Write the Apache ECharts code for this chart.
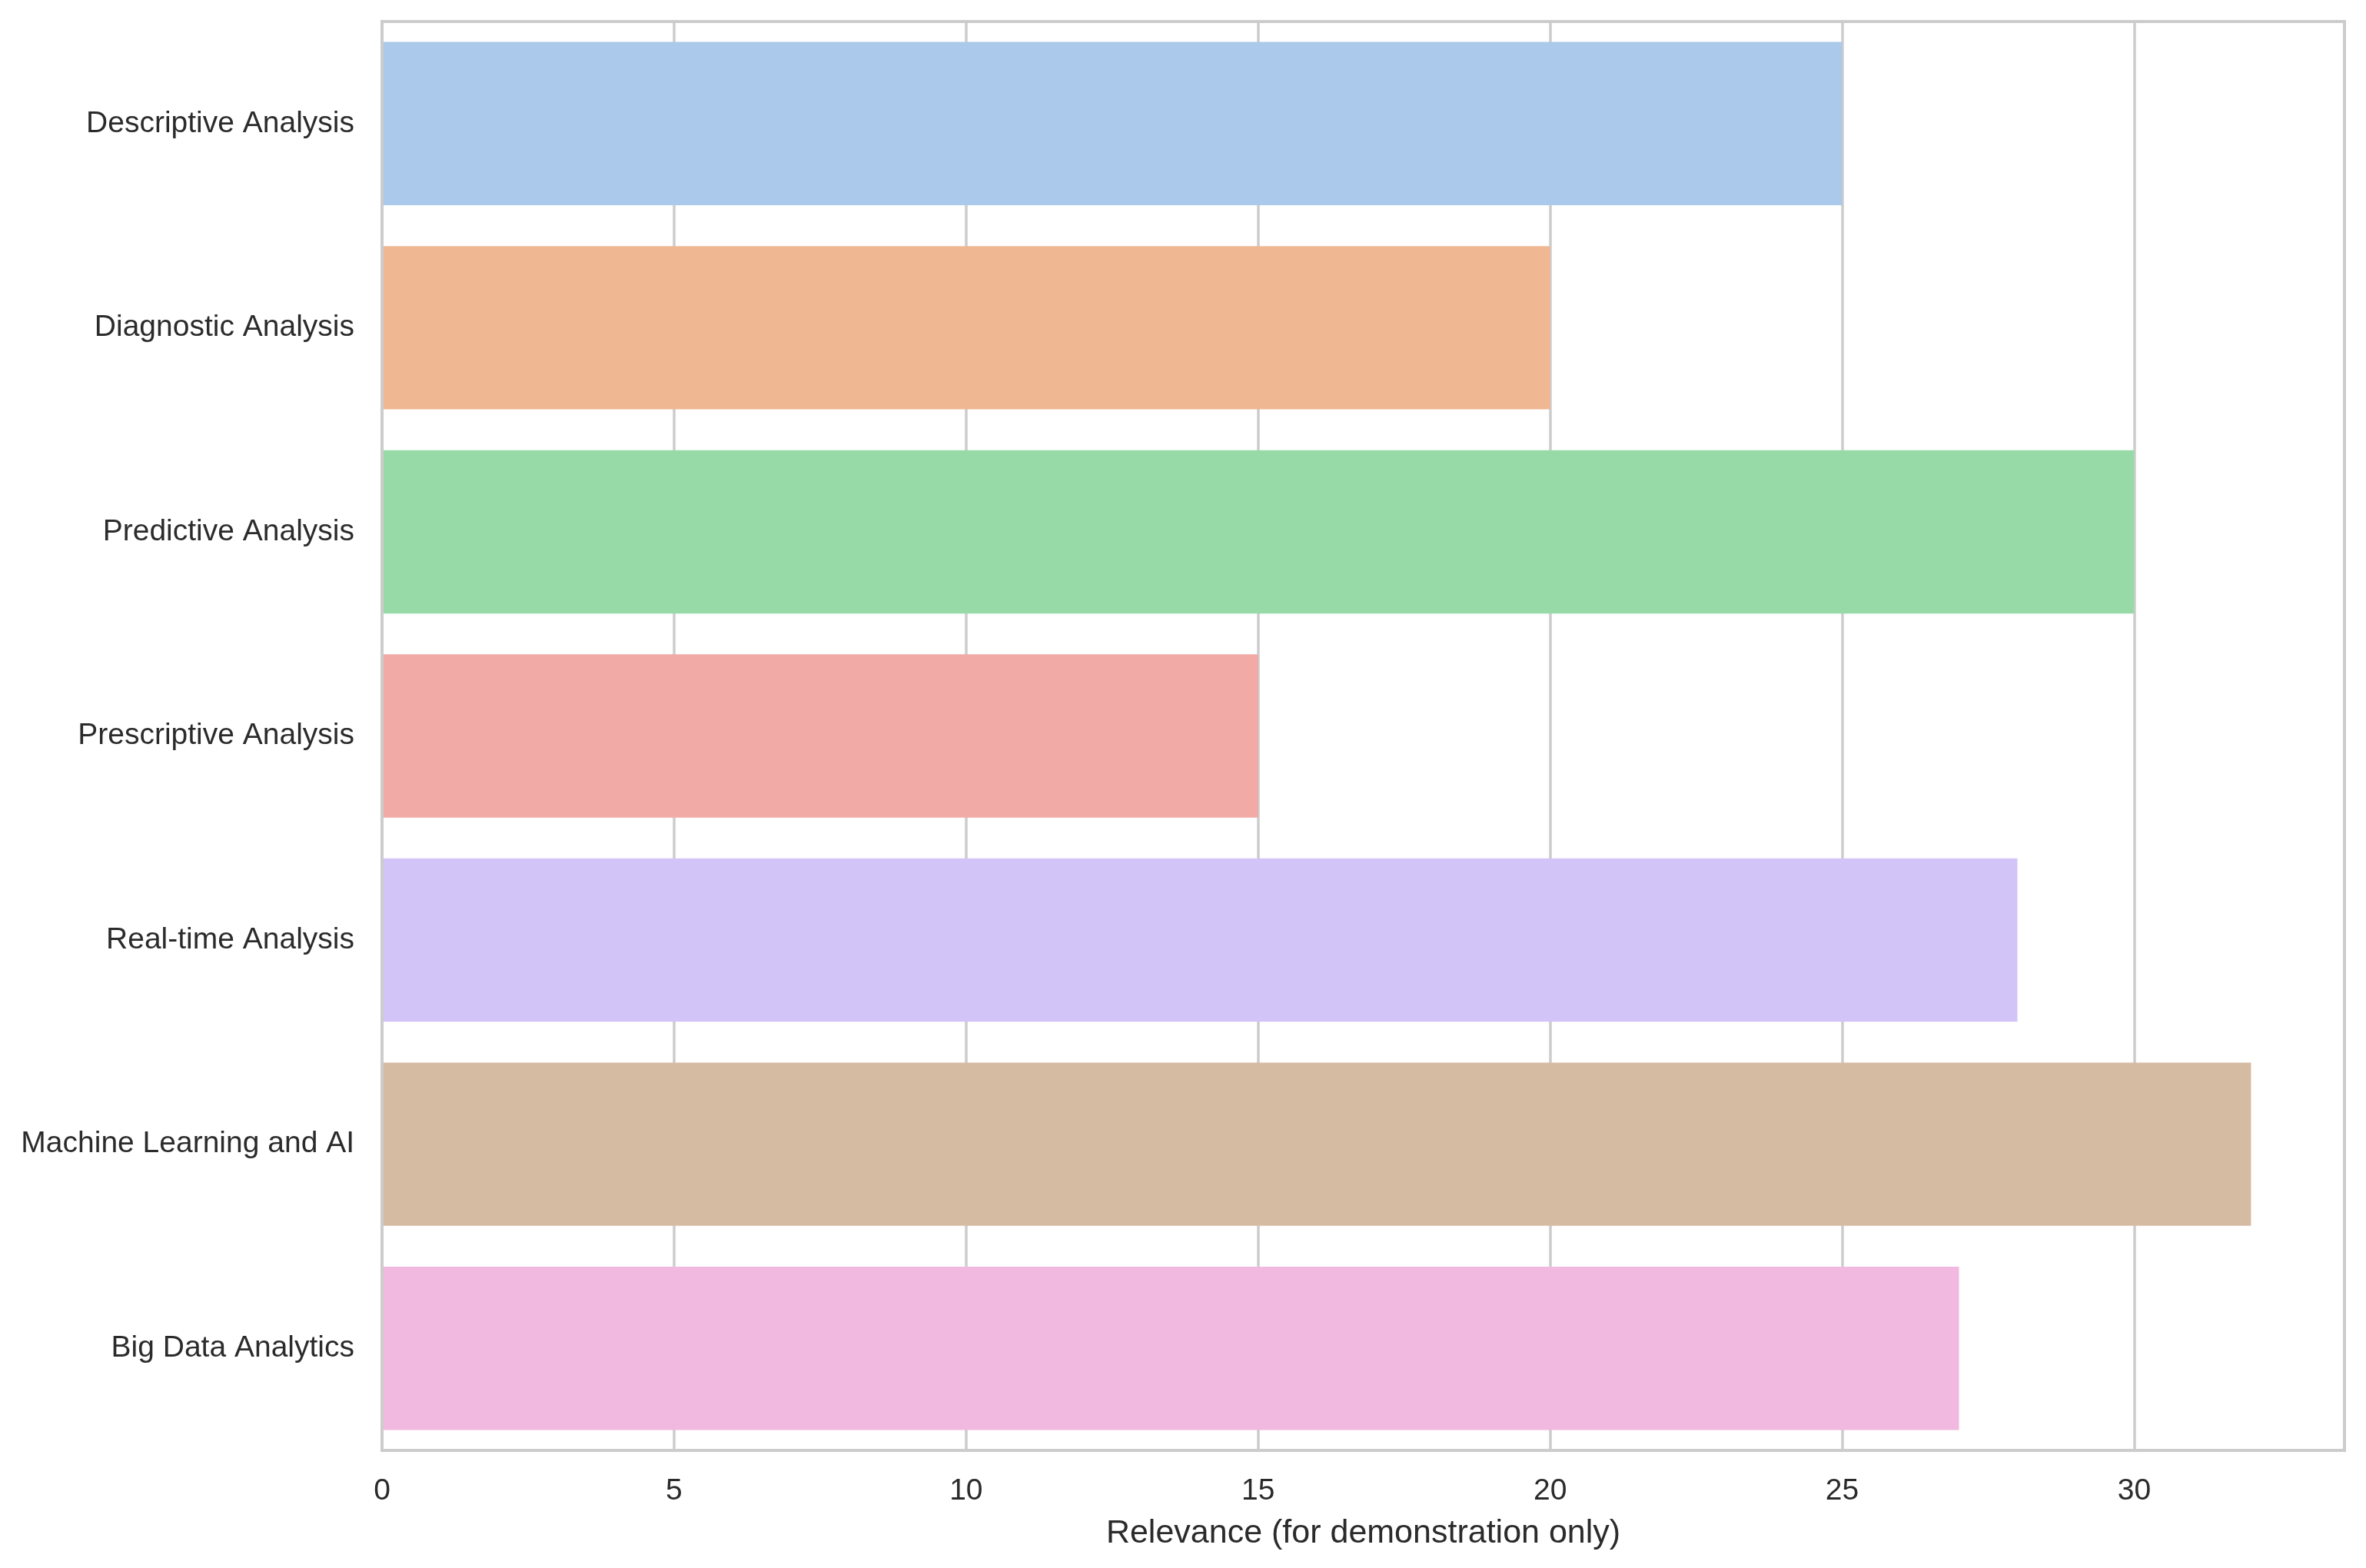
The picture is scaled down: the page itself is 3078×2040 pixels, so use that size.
<!DOCTYPE html>
<html>
<head>
<meta charset="utf-8">
<script src="https://cdn.jsdelivr.net/npm/echarts@6/dist/echarts.min.js"></script>
<style>
html,body{margin:0;padding:0;background:#fff;}
#chart{width:3078px;height:2040px;}
</style>
</head>
<body>
<div id="chart"></div>
<script>
const categories = ["Descriptive Analysis", "Diagnostic Analysis", "Predictive Analysis", "Prescriptive Analysis", "Real-time Analysis", "Machine Learning and AI", "Big Data Analytics"];
const relevance = [25, 20, 30, 15, 28, 32, 27];
const barColors = ["#abc9ea", "#efb792", "#98daa7", "#f2aaa7", "#d3c4f7", "#d6bba3", "#f1b9e0"];
const xAxisTitle = "Relevance (for demonstration only)";

const textColor = "#2b2b2b";
const font = "Liberation Sans, Arial, sans-serif";

const chart = echarts.init(document.getElementById('chart'), null, {renderer: 'canvas'});
chart.setOption({
  animation: false,
  backgroundColor: '#ffffff',
  grid: {
    left: 497, right: 28, top: 28, bottom: 153,
    show: true, borderColor: '#cccccc', borderWidth: 4, backgroundColor: 'transparent'
  },
  xAxis: {
    type: 'value',
    min: 0, max: 33.6, interval: 5,
    name: xAxisTitle,
    nameLocation: 'middle',
    nameGap: 87,
    nameTextStyle: {fontFamily: font, fontSize: 43, color: textColor},
    axisLine: {show: true, lineStyle: {color: '#cccccc', width: 4}},
    axisTick: {show: false},
    axisLabel: {fontFamily: font, fontSize: 39, color: textColor, margin: 34,
      showMaxLabel: false},
    splitLine: {show: true, lineStyle: {color: '#cccccc', width: 3.5}}
  },
  yAxis: {
    type: 'category',
    data: categories,
    inverse: true,
    z: 3,
    axisLine: {show: true, lineStyle: {color: '#cccccc', width: 4}},
    axisTick: {show: false},
    axisLabel: {fontFamily: font, fontSize: 39, color: textColor, margin: 36, padding: [8, 0, 0, 0]},
    splitLine: {show: false}
  },
  series: [{
    type: 'bar',
    data: relevance.map((v, i) => ({value: v, itemStyle: {color: barColors[i]}})),
    barCategoryGap: '20%'
  }]
});
</script>
</body>
</html>
